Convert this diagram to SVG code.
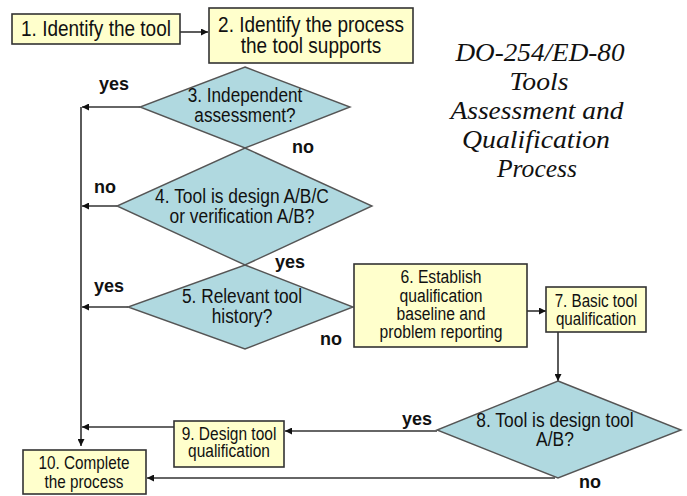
<svg xmlns="http://www.w3.org/2000/svg" width="687" height="496" viewBox="0 0 687 496">
<defs>
<style>
.box{fill:#FFFFCC;stroke:#333;stroke-width:1.6}
.dia{fill:#B0D9E0;stroke:#555;stroke-width:1.4}
.t{font-family:"Liberation Sans",Arial,sans-serif;fill:#111;text-anchor:middle}
.lbl{font-family:"Liberation Sans",Arial,sans-serif;font-weight:bold;font-size:18px;fill:#111}
.ttl{font-family:"Liberation Serif","Times New Roman",serif;font-style:italic;font-size:25px;fill:#111;text-anchor:middle}
.c{fill:none;stroke:#333;stroke-width:1.6}
</style>
<marker id="ah" viewBox="0 0 10 10" refX="10" refY="5" markerWidth="7" markerHeight="7" markerUnits="userSpaceOnUse" orient="auto">
<path d="M0,0 L10,5 L0,10 z" fill="#111"/>
</marker>
</defs>
<rect width="687" height="496" fill="#fff"/>

<g id="title">
<text class="ttl" x="540" y="61" textLength="169" lengthAdjust="spacingAndGlyphs">DO-254/ED-80</text>
<text class="ttl" x="539" y="90" textLength="59" lengthAdjust="spacingAndGlyphs">Tools</text>
<text class="ttl" x="537" y="119" textLength="173" lengthAdjust="spacingAndGlyphs">Assessment and</text>
<text class="ttl" x="536" y="148" textLength="148" lengthAdjust="spacingAndGlyphs">Qualification</text>
<text class="ttl" x="537" y="177" textLength="80" lengthAdjust="spacingAndGlyphs">Process</text>
</g>

<g id="connectors">
<line class="c" x1="180" y1="32" x2="208" y2="32" marker-end="url(#ah)"/>
<line class="c" x1="81" y1="107" x2="81" y2="446" marker-end="url(#ah)"/>
<line class="c" x1="140" y1="107" x2="82" y2="107" marker-end="url(#ah)"/>
<line class="c" x1="117" y1="206" x2="82" y2="206" marker-end="url(#ah)"/>
<line class="c" x1="128" y1="307" x2="82" y2="307" marker-end="url(#ah)"/>
<line class="c" x1="527" y1="311" x2="546" y2="311" marker-end="url(#ah)"/>
<line class="c" x1="558" y1="332" x2="558" y2="381" marker-end="url(#ah)"/>
<line class="c" x1="437" y1="431" x2="285" y2="431" marker-end="url(#ah)"/>
<line class="c" x1="174" y1="427" x2="82" y2="427" marker-end="url(#ah)"/>
<line class="c" x1="555" y1="478" x2="147" y2="478" marker-end="url(#ah)"/>
</g>

<g id="n1">
<rect class="box" x="12" y="14" width="168" height="30"/>
<text class="t" x="96" y="36" font-size="19" transform="matrix(1 0 0 1.15 0 -5.4)">1. Identify the tool</text>
</g>
<g id="n2">
<rect class="box" x="209" y="8" width="204" height="55"/>
<text class="t" x="311" y="32" font-size="19" transform="matrix(1 0 0 1.15 0 -4.8)">2. Identify the process</text>
<text class="t" x="311" y="53" font-size="19" transform="matrix(1 0 0 1.15 0 -7.95)">the tool supports</text>
</g>
<g id="n3">
<polygon class="dia" points="245,67 350,107 245,148 140,107"/>
<text class="t" x="245" y="102" font-size="17.2" transform="matrix(1 0 0 1.15 0 -15.3)">3. Independent</text>
<text class="t" x="245" y="122" font-size="17.2" transform="matrix(1 0 0 1.15 0 -18.3)">assessment?</text>
</g>
<g id="n4">
<polygon class="dia" points="245,148 372,206 245,265 117,206"/>
<text class="t" x="242" y="203" font-size="17.4" transform="matrix(1 0 0 1.15 0 -30.45)">4. Tool is design A/B/C</text>
<text class="t" x="242" y="223" font-size="17.4" transform="matrix(1 0 0 1.15 0 -33.45)">or verification A/B?</text>
</g>
<g id="n5">
<polygon class="dia" points="245,265 353,307 245,349 128,307"/>
<text class="t" x="242" y="303" font-size="17.3" transform="matrix(1 0 0 1.15 0 -45.45)">5. Relevant tool</text>
<text class="t" x="242" y="323" font-size="17.3" transform="matrix(1 0 0 1.15 0 -48.45)">history?</text>
</g>
<g id="n6">
<rect class="box" x="354" y="264" width="173" height="83"/>
<text class="t" x="441" y="283" font-size="15.7" transform="matrix(1 0 0 1.15 0 -42.45)">6. Establish</text>
<text class="t" x="441" y="302" font-size="15.7" transform="matrix(1 0 0 1.15 0 -45.3)">qualification</text>
<text class="t" x="441" y="320" font-size="15.7" transform="matrix(1 0 0 1.15 0 -48)">baseline and</text>
<text class="t" x="441" y="338" font-size="15.7" transform="matrix(1 0 0 1.15 0 -50.7)">problem reporting</text>
</g>
<g id="n7">
<rect class="box" x="546" y="287" width="100" height="45"/>
<text class="t" x="596" y="307" font-size="15.2" transform="matrix(1 0 0 1.15 0 -46.05)">7. Basic tool</text>
<text class="t" x="596" y="325" font-size="15.2" transform="matrix(1 0 0 1.15 0 -48.75)">qualification</text>
</g>
<g id="n8">
<polygon class="dia" points="558,381 681,430 558,478 437,430"/>
<text class="t" x="555" y="427" font-size="17.4" transform="matrix(1 0 0 1.15 0 -64.05)">8. Tool is design tool</text>
<text class="t" x="555" y="446" font-size="17.4" transform="matrix(1 0 0 1.15 0 -66.9)">A/B?</text>
</g>
<g id="n9">
<rect class="box" x="174" y="421" width="110" height="46"/>
<text class="t" x="229" y="440" font-size="15.5" transform="matrix(1 0 0 1.15 0 -66)">9. Design tool</text>
<text class="t" x="229" y="457" font-size="15.5" transform="matrix(1 0 0 1.15 0 -68.55)">qualification</text>
</g>
<g id="n10">
<rect class="box" x="23" y="450" width="123" height="44"/>
<text class="t" x="84" y="469" font-size="15.3" transform="matrix(1 0 0 1.15 0 -70.35)">10. Complete</text>
<text class="t" x="84" y="488" font-size="15.3" transform="matrix(1 0 0 1.15 0 -73.2)">the process</text>
</g>

<g id="labels">
<text class="lbl" x="99" y="90">yes</text>
<text class="lbl" x="292" y="153">no</text>
<text class="lbl" x="94" y="193">no</text>
<text class="lbl" x="275" y="268">yes</text>
<text class="lbl" x="94" y="292">yes</text>
<text class="lbl" x="320" y="345">no</text>
<text class="lbl" x="402" y="425">yes</text>
<text class="lbl" x="579" y="488">no</text>
</g>
</svg>
